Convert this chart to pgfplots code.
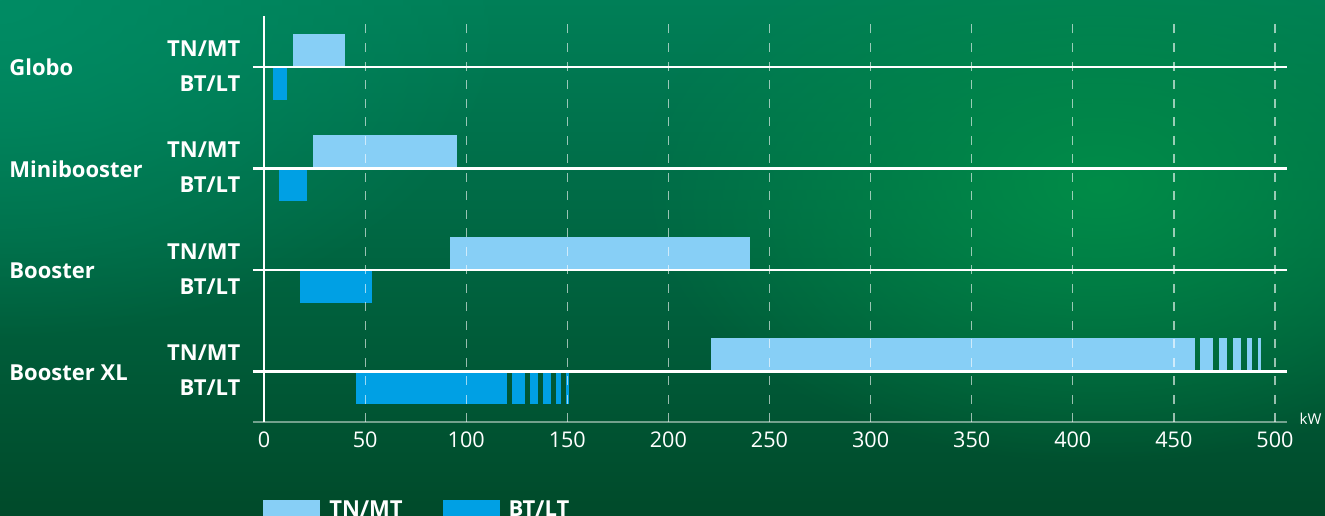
\documentclass[border=0pt]{standalone}
\usepackage{pgfplots}
\pgfplotsset{compat=1.18}
\usepackage{fontspec}
\setmainfont{Open Sans}
\usetikzlibrary{fadings}
\definecolor{tnc}{HTML}{87CFF6}
\definecolor{btc}{HTML}{00A0E4}
\definecolor{bgtop}{HTML}{007F57}
\definecolor{bgbot}{HTML}{004A2A}
\definecolor{glowc}{HTML}{008C48}
\definecolor{tealc}{HTML}{008C64}
\tikzfading[name=glowfade, inner color=transparent!0, outer color=transparent!100]
\newcommand{\rbar}[5]{\addplot[fill=#1,draw=none,forget plot] coordinates {(#2,#4) (#3,#4) (#3,#5) (#2,#5)};}
\begin{document}
\begin{tikzpicture}
\useasboundingbox (0,0) rectangle (662.5pt,257.5pt);
\clip (0,0) rectangle (662.5pt,257.5pt);
\shade[top color=bgtop, bottom color=bgbot] (0,0) rectangle (662.5pt,257.5pt);
\fill[tealc, path fading=glowfade] (0pt,257.5pt) ellipse (260pt and 170pt);
\fill[glowc, path fading=glowfade] (550pt,165pt) ellipse (230pt and 140pt);
\begin{axis}[
  at={(132pt,46.5pt)}, anchor=south west,
  scale only axis, width=505.5pt, height=203pt,
  xmin=0, xmax=500, ymin=-0.5, ymax=3.5,
  clip=false, axis on top,
  axis line style={draw=none},
  major tick length=0pt,
  xtick={0,50,...,500}, ytick=\empty,
  xmajorgrids,
  major grid style={white, opacity=0.6, line width=0.6pt, dash pattern=on 4.5pt off 4.75pt},
  /pgf/number format/assume math mode=true,
  tick label style={font=\fontsize{10.8}{13}\selectfont, text=white},
  xticklabel style={yshift=-1.5pt},
  legend style={at={(axis cs:-0.5,-1.23)}, anchor=north west, draw=none, fill=none,
    inner sep=0pt, font=\bfseries\fontsize{11}{13}\selectfont, text=white,
    /tikz/every even column/.append style={column sep=18pt}},
  legend columns=2,
  legend image code/.code={\fill[#1,draw=none] (0pt,-4pt) rectangle (28.5pt,5pt); \path (31pt,0pt);},
]
% TN/MT bars
\rbar{tnc}{14.3}{39.9}{3}{3.325}
\rbar{tnc}{24.2}{95.4}{2}{2.325}
\rbar{tnc}{92.0}{240.4}{1}{1.325}
\rbar{tnc}{221.1}{460.4}{0}{0.325}
\rbar{tnc}{462.9}{469.1}{0}{0.325}
\rbar{tnc}{472.3}{476.1}{0}{0.325}
\rbar{tnc}{479.2}{483.0}{0}{0.325}
\rbar{tnc}{486.2}{488.6}{0}{0.325}
\rbar{tnc}{491.5}{493.1}{0}{0.325}
% BT/LT bars
\rbar{btc}{4.3}{11.4}{2.675}{3}
\rbar{btc}{7.4}{21.3}{1.675}{2}
\rbar{btc}{17.8}{53.4}{0.675}{1}
\rbar{btc}{45.5}{120.0}{-0.325}{0}
\rbar{btc}{122.6}{128.9}{-0.325}{0}
\rbar{btc}{131.5}{135.5}{-0.325}{0}
\rbar{btc}{138.0}{142.0}{-0.325}{0}
\rbar{btc}{144.4}{146.7}{-0.325}{0}
\rbar{btc}{149.4}{150.7}{-0.325}{0}
\addlegendimage{fill=tnc,draw=none}
\addlegendentry{TN/MT}
\addlegendimage{fill=btc,draw=none}
\addlegendentry{BT/LT}
% lines
\draw[white, line width=0.8pt] (axis cs:0,-0.5) -- (axis cs:0,3.5);
\draw[white, opacity=0.45, line width=1pt] (axis cs:-5.5,-0.5) -- (axis cs:506,-0.5);
\draw[white, line width=1.25pt] (axis cs:-5.5,0) -- (axis cs:506,0);
\draw[white, line width=1.25pt] (axis cs:-5.5,1) -- (axis cs:506,1);
\draw[white, line width=1.25pt] (axis cs:-5.5,2) -- (axis cs:506,2);
\draw[white, line width=1.25pt] (axis cs:-5.5,3) -- (axis cs:506,3);
% labels
\begin{scope}[every node/.style={text=white, font=\bfseries\fontsize{11}{13}\selectfont, inner sep=0pt}]
\node[anchor=base west] at (axis cs:-126.1,2.912) {Globo};
\node[anchor=base west] at (axis cs:-126.1,1.912) {Minibooster};
\node[anchor=base west] at (axis cs:-126.1,0.912) {Booster};
\node[anchor=base west] at (axis cs:-126.1,-0.088) {Booster XL};
\node[anchor=base east] at (axis cs:-11.5,3.102) {TN/MT};
\node[anchor=base east] at (axis cs:-11.5,2.757) {BT/LT};
\node[anchor=base east] at (axis cs:-11.5,2.102) {TN/MT};
\node[anchor=base east] at (axis cs:-11.5,1.757) {BT/LT};
\node[anchor=base east] at (axis cs:-11.5,1.102) {TN/MT};
\node[anchor=base east] at (axis cs:-11.5,0.757) {BT/LT};
\node[anchor=base east] at (axis cs:-11.5,0.102) {TN/MT};
\node[anchor=base east] at (axis cs:-11.5,-0.243) {BT/LT};
\end{scope}
\node[anchor=base west, text=white, inner sep=0pt, font=\fontsize{7.5}{9}\selectfont] at (axis cs:512.0,-0.522) {kW};
\end{axis}
\end{tikzpicture}
\end{document}
